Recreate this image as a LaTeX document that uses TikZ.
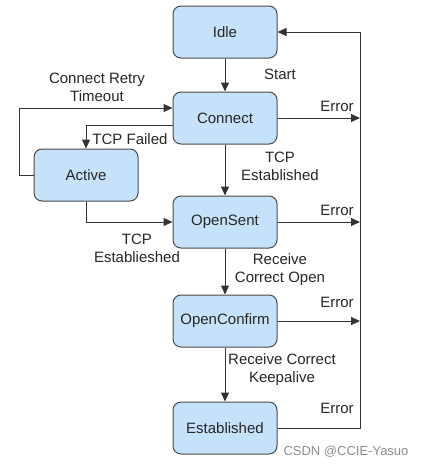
\documentclass[tikz,border=0pt]{standalone}
\usepackage{fontspec}
\setmainfont{Liberation Sans}
\usetikzlibrary{arrows.meta}
\definecolor{boxfill}{HTML}{C6E1FA}
\definecolor{boxline}{HTML}{4A4A4A}
\definecolor{lineclr}{HTML}{333333}
\begin{document}
\begin{tikzpicture}[x=1pt,y=-1pt,
  font=\fontsize{15}{18}\selectfont,
  state/.style={draw=boxline,fill=boxfill,line width=1pt,rounded corners=8pt,
    minimum width=104pt,minimum height=52pt,inner sep=0pt,text=black!85},
  conn/.style={draw=lineclr,line width=1pt,-{Triangle[length=9pt,width=8pt]}},
  lbl/.style={align=center,inner sep=0pt,text=black!85}]
\useasboundingbox (0,0) rectangle (432,467);
\node[state] (idle) at (225,32) {Idle};
\node[state] (connect) at (225,118) {Connect};
\node[state] (active) at (86,175) {Active};
\node[state] (opensent) at (225,222) {OpenSent};
\node[state] (openconfirm) at (225,321) {OpenConfirm};
\node[state] (established) at (225,428) {Established};
\coordinate (rTop) at (360,32);
\coordinate (rC) at (360,118);
\coordinate (rS) at (360,222);
\coordinate (rO) at (360,321);
\coordinate (rE) at (360,428);
\coordinate (lA) at (19,175);
\coordinate (lC) at (19,108);
% vertical flow
\draw[conn] (idle) -- (connect);
\draw[conn] (connect) -- (opensent);
\draw[conn] (opensent) -- (openconfirm);
\draw[conn] (openconfirm) -- (established);
% errors
\draw[conn] (connect.east) -- (rC);
\draw[conn] (opensent.east) -- (rS);
\draw[conn] (openconfirm.east) -- (rO);
\draw[conn] (established.east) -- (rE) -- (rTop) -- (idle.east);
% left side
\draw[conn] (active.west) -- (lA) -- (lC) -- (connect.west |- lC);
\draw[conn] (connect.west |- 0,125) -| (active.north);
\draw[conn] (active.south) |- (opensent.west);
% labels
\node[lbl] at (280,74) {Start};
\node[lbl] at (97,87) {Connect Retry\\Timeout};
\node[lbl] at (130,139) {TCP Failed};
\node[lbl] at (280,166) {TCP\\Established};
\node[lbl] at (137,248) {TCP\\Establieshed};
\node[lbl] at (280,270) {Receive\\Correct Open};
\node[lbl] at (282,370) {Receive Correct\\Keepalive};
\node[lbl] at (337,106) {Error};
\node[lbl] at (337,210) {Error};
\node[lbl] at (337,302) {Error};
\node[lbl] at (337,408) {Error};
\node[lbl,text=black!45,font=\fontsize{13}{15}\selectfont] at (346,452) {CSDN @CCIE-Yasuo};
\end{tikzpicture}
\end{document}
